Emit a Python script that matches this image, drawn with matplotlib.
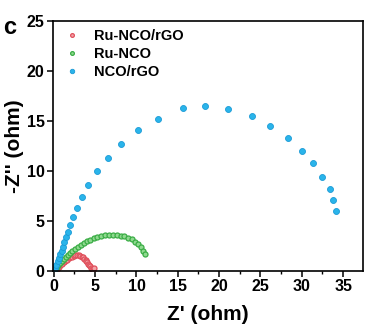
import numpy as np
import matplotlib
matplotlib.use('Agg')
import matplotlib.pyplot as plt
from matplotlib.ticker import MultipleLocator

plt.rcParams['font.family'] = ['Liberation Sans', 'DejaVu Sans']
plt.rcParams['font.weight'] = 'bold'

# Ru-NCO/rGO
x_red = [0.0, 0.2, 0.4, 0.6, 0.8, 1.0, 1.2, 1.4, 1.6, 1.8, 2.0, 2.2, 2.4, 2.6, 2.8,
         3.0, 3.2, 3.4, 3.55, 3.7, 3.85, 3.95, 4.05, 4.15, 4.25, 4.35, 4.45, 4.6, 4.75, 4.87]
y_red = [0.0, 0.05, 0.2, 0.4, 0.58, 0.75, 0.9, 1.03, 1.15, 1.27, 1.37, 1.45, 1.52, 1.57, 1.6,
         1.58, 1.53, 1.45, 1.36, 1.25, 1.12, 1.0, 0.87, 0.74, 0.6, 0.47, 0.34, 0.2, 0.12, 0.3]

# Ru-NCO
x_green = [0.0, 0.16, 0.36, 0.56, 0.76, 0.96, 1.21, 1.45, 1.69, 1.97, 2.25, 2.58, 2.90,
           3.26, 3.62, 3.99, 4.39, 4.83, 5.28, 5.72, 6.16, 6.65, 7.13, 7.61, 8.10,
           8.54, 8.98, 9.43, 9.83, 10.19, 10.52, 10.80, 11.08]
y_green = [0.03, 0.20, 0.40, 0.60, 0.80, 1.00, 1.20, 1.40, 1.60, 1.80, 2.00, 2.20, 2.40,
           2.60, 2.80, 2.97, 3.13, 3.30, 3.43, 3.53, 3.60, 3.63, 3.63, 3.60, 3.53,
           3.47, 3.33, 3.17, 2.93, 2.67, 2.40, 2.03, 1.67]

# NCO/rGO
x_blue = [0.0, 0.16, 0.32, 0.48, 0.64, 0.80, 0.96, 1.12, 1.28, 1.49, 1.73, 2.0, 2.33,
          2.8, 3.4, 4.15, 5.2, 6.5, 8.1, 10.2, 12.6, 15.6, 18.3, 21.1, 24.0, 26.2,
          28.3, 30.0, 31.4, 32.5, 33.4, 33.8, 34.2]
y_blue = [0.07, 0.33, 0.63, 0.97, 1.3, 1.67, 2.03, 2.43, 2.9, 3.4, 3.9, 4.6, 5.4,
          6.3, 7.4, 8.6, 10.0, 11.3, 12.7, 14.1, 15.2, 16.3, 16.5, 16.2, 15.5, 14.5,
          13.3, 12.0, 10.8, 9.4, 8.2, 7.1, 6.0]

fig = plt.figure(figsize=(3.73, 3.25), dpi=100)
ax = fig.add_axes([0.142, 0.166, 0.831, 0.768])

ax.plot(x_red, y_red, 'o', ms=3.6, mfc='#f3a3a8', mec='#e0505c', mew=0.9, label='Ru-NCO/rGO')
ax.plot(x_green, y_green, 'o', ms=3.6, mfc='#8fd98f', mec='#3aad45', mew=0.9, label='Ru-NCO')
ax.plot(x_blue, y_blue, 'o', ms=4.3, mfc='#2ab4ea', mec='#1a9ad6', mew=0.6, label='NCO/rGO')

ax.set_xlim(-0.1, 37.4)
ax.set_ylim(0, 25)
ax.xaxis.set_major_locator(MultipleLocator(5))
ax.xaxis.set_minor_locator(MultipleLocator(2.5))
ax.yaxis.set_major_locator(MultipleLocator(5))
ax.tick_params(which='major', direction='out', length=4, width=1.1, labelsize=11.5, pad=2)
ax.tick_params(which='minor', direction='out', length=2.5, width=1.0)
for s in ax.spines.values():
    s.set_linewidth(1.2)

ax.set_xlabel("Z' (ohm)", fontsize=15, fontweight='bold', labelpad=8)
ax.set_ylabel("-Z'' (ohm)", fontsize=15, fontweight='bold', labelpad=2)

ax.legend(loc='upper left', frameon=False, fontsize=10.5, handletextpad=0.5,
          borderaxespad=0.1, labelspacing=0.3, markerscale=0.75,
          bbox_to_anchor=(-0.01, 1.0))

fig.text(0.008, 0.895, 'c', fontsize=17, fontweight='bold')

fig.savefig('out.png', dpi=100)
